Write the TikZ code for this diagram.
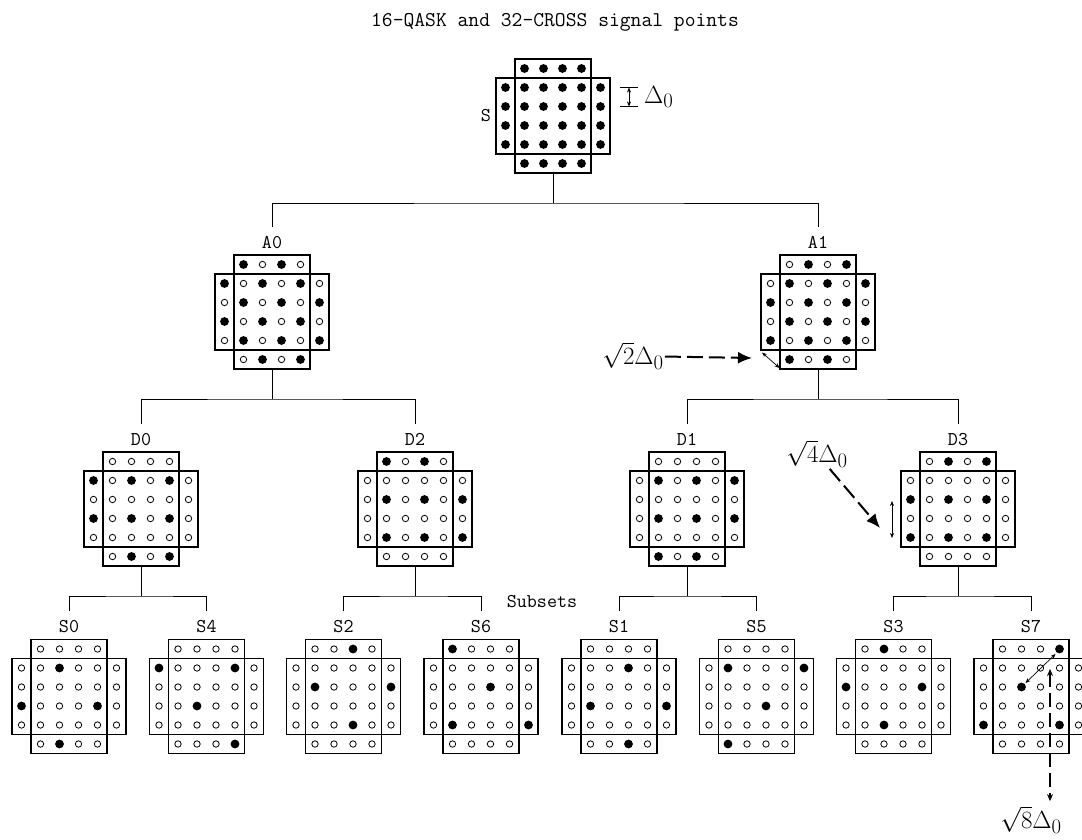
\documentclass[tikz,border=0pt]{standalone}
\usepackage{amsmath}
\usepackage{tikz}
\usetikzlibrary{arrows.meta,positioning,calc}
\newcommand{\lblfont}{\ttfamily\fontsize{19.5}{22}\selectfont}
\newcommand{\ttlfont}{\ttfamily\fontsize{21}{24}\selectfont}
\newcommand{\mlblfont}{\fontsize{24.88}{28}\selectfont}
\tikzset{
  cell/.style={minimum width=114pt,minimum height=114pt,inner sep=0pt,outer sep=0pt},
  box/.style={line width=1.2pt},
  opendot/.style={draw,line width=0.8pt,radius=3.2pt},
  fulldot/.style={fill,radius=4.4pt},
  lbl/.style={font=\lblfont,inner sep=0pt},
  mlabel/.style={font=\mlblfont,inner sep=1pt},
  link/.style={line width=1pt},
  pointer/.style={line width=2pt,dash pattern=on 16pt off 6pt,-{Latex[length=14pt,width=12pt]}},
  pointerthin/.style={line width=1.2pt,dash pattern=on 14pt off 6pt,{Stealth[length=7pt,width=6pt]}-{Stealth[length=7pt,width=6pt]}},
  dimarrow/.style={line width=0.7pt,{Stealth[length=5pt,width=4pt]}-{Stealth[length=5pt,width=4pt]}}
}
\newcommand{\crosscon}[5][opendot]{%
  \node[cell] (#2) at (#3,#4) {};
  \draw[box] ([xshift=-38pt]#2.north) rectangle ([xshift=38pt]#2.south);
  \draw[box] ([yshift=38pt]#2.west) rectangle ([yshift=-38pt]#2.east);
  \begin{scope}[shift={(#2.center)}]
    \foreach \r in {0,...,5}
      \foreach \c in {0,...,5} {
        \pgfmathtruncatemacro\corner{and(or(\r==0,\r==5),or(\c==0,\c==5))}
        \ifnum\corner=0 \path[#1] ({(\c-2.5)*19},{(\r-2.5)*19}) circle; \fi
      }
    \ifx\relax#5\relax\else
      \foreach \r/\c in {#5}
        \path[fulldot] ({(\c-2.5)*19},{(\r-2.5)*19}) circle;
    \fi
  \end{scope}}

\begin{document}
\begin{tikzpicture}[x=1pt,y=-1pt]
  \useasboundingbox (0,0) rectangle (1082,840);
  \node[lbl,font=\ttlfont] (title) at (555,22) {16-QASK and 32-CROSS signal points};

  \crosscon[fulldot]{cS}{553}{116}{}
  \crosscon{cA0}{272}{312}{0/1,0/3,1/0,1/2,1/4,2/1,2/3,2/5,3/0,3/2,3/4,4/1,4/3,4/5,5/2,5/4}
  \crosscon{cA1}{818}{312}{0/2,0/4,1/1,1/3,1/5,2/0,2/2,2/4,3/1,3/3,3/5,4/0,4/2,4/4,5/1,5/3}
  \crosscon{cD0}{141}{509}{1/0,1/2,1/4,3/0,3/2,3/4,5/2,5/4}
  \crosscon{cD2}{415}{509}{0/1,0/3,2/1,2/3,2/5,4/1,4/3,4/5}
  \crosscon{cD1}{687}{509}{1/1,1/3,1/5,3/1,3/3,3/5,5/1,5/3}
  \crosscon{cD3}{958}{509}{0/2,0/4,2/0,2/2,2/4,4/0,4/2,4/4}
  \crosscon{cS0}{69}{696.5}{1/2,3/0,3/4,5/2}
  \crosscon{cS4}{206.5}{696.5}{1/0,1/4,3/2,5/4}
  \crosscon{cS2}{343.5}{696.5}{0/3,2/1,2/5,4/3}
  \crosscon{cS6}{481}{696.5}{0/1,2/3,4/1,4/5}
  \crosscon{cS1}{619}{696.5}{1/3,3/1,3/5,5/3}
  \crosscon{cS5}{756.5}{696.5}{1/1,1/5,3/3,5/1}
  \crosscon{cS3}{893.5}{696.5}{0/2,2/0,2/4,4/2}
  \crosscon{cS7}{1031}{696.5}{0/4,2/2,4/0,4/4}

  \node[lbl,left=5pt of cS.west] (lS) {S};
  \foreach \n in {A0,A1,D0,D2,D1,D3,S0,S4,S2,S6,S1,S5,S3,S7}
    \node[lbl,above=6.5pt of c\n] (l\n) {\n};
  \node[lbl] (subsets) at (542,602) {Subsets};

  \coordinate[below=30pt of cS.south] (jS);
  \draw[link] (cS.south) -- (jS);
  \draw[link] ([yshift=9pt]lA0.north) |- (jS) -| ([yshift=9pt]lA1.north);
  \foreach \p/\a/\b in {A0/D0/D2,A1/D1/D3,D0/S0/S4,D2/S2/S6,D1/S1/S5,D3/S3/S7} {
    \coordinate[below=30pt of c\p.south] (j\p);
    \draw[link] (c\p.south) -- (j\p);
    \draw[link] ([yshift=9pt]l\a.north) |- (j\p) -| ([yshift=9pt]l\b.north);
  }

  \draw[line width=0.8pt] (620,87.5) -- (638,87.5) (620,106.5) -- (638,106.5);
  \draw[dimarrow] (629,87.5) -- (629,106.5);
  \node[mlabel,anchor=west] (dS) at (643,97) {$\Delta_0$};

  \node[mlabel] (lsq2) at (633,356) {$\sqrt{2}\Delta_0$};
  \coordinate (pA1) at (752,358);
  \draw[pointer] (lsq2) -- (pA1);
  \draw[dimarrow] (762,352.5) -- (779.5,368);

  \node[mlabel] (lsq4) at (817,454) {$\sqrt{4}\Delta_0$};
  \coordinate (pD3) at (880,528);
  \draw[pointer] (lsq4) -- (pD3);
  \draw[dimarrow] (892,501) -- (892,538);

  \node[mlabel] (lsq8) at (1031,820) {$\sqrt{8}\Delta_0$};
  \coordinate (pS7) at (1050,669);
  \draw[dimarrow] (1025.5,683) -- (1055.5,654);
  \draw[pointerthin] (pS7) -- ([yshift=4pt]pS7 |- lsq8.north);
\end{tikzpicture}
\end{document}
